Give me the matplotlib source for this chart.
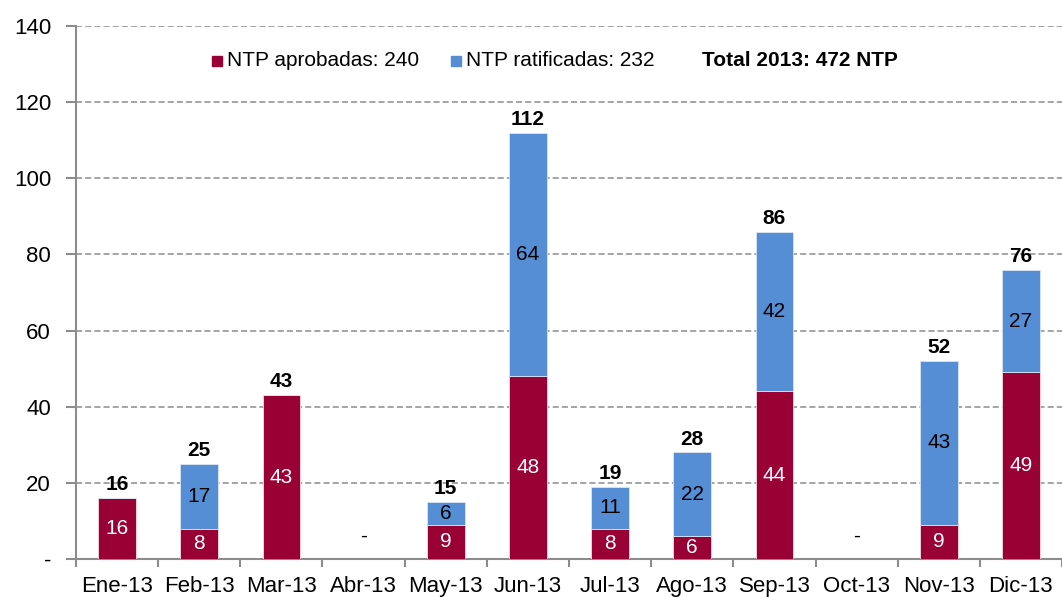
import matplotlib
matplotlib.use("Agg")
import matplotlib.pyplot as plt
from matplotlib.patches import Rectangle
import numpy as np

plt.rcParams['font.family'] = ['Liberation Sans', 'DejaVu Sans']

months = ["Ene-13", "Feb-13", "Mar-13", "Abr-13", "May-13", "Jun-13",
          "Jul-13", "Ago-13", "Sep-13", "Oct-13", "Nov-13", "Dic-13"]
aprobadas = [16, 8, 43, 0, 9, 48, 8, 6, 44, 0, 9, 49]
ratificadas = [0, 17, 0, 0, 6, 64, 11, 22, 42, 0, 43, 27]
yticks = [0, 20, 40, 60, 80, 100, 120, 140]
ytick_labels = ["-", "20", "40", "60", "80", "100", "120", "140"]

RED = "#990033"
BLUE = "#558ED5"
GRID = "#8C8C8C"

fig = plt.figure(figsize=(10.62, 5.97), dpi=100)
ax = fig.add_axes([76/1062, 1 - 559/597, 1 - 76/1062, (559 - 26)/597])

x = np.arange(len(months))
w = 0.46
ax.bar(x, aprobadas, w, color=RED, edgecolor="#F2DCE3", linewidth=0.6, zorder=3)
ax.bar(x, ratificadas, w, bottom=aprobadas, color=BLUE, edgecolor="#DCE6F2", linewidth=0.6, zorder=3)

LBL = 15
for i in range(len(months)):
    a, r = aprobadas[i], ratificadas[i]
    tot = a + r
    if tot == 0:
        ax.text(x[i], 6, "-", ha="center", va="center", fontsize=LBL, color="black", zorder=4)
        continue
    if a > 0:
        ax.text(x[i], a / 2, str(a), ha="center", va="center", fontsize=LBL, color="white", zorder=4)
    if r > 0:
        ax.text(x[i], a + r / 2, str(r), ha="center", va="center", fontsize=LBL, color="black", zorder=4)
    ax.text(x[i], tot + 1.0, str(tot), ha="center", va="bottom", fontsize=LBL,
            fontweight="bold", color="black", zorder=4)

ax.set_ylim(0, 140)
ax.set_xlim(-0.5, (1062 - 76) / 83 - 0.5)
ax.set_yticks(yticks)
ax.set_yticklabels(ytick_labels, fontsize=16)
ax.yaxis.grid(True, color=GRID, linestyle=(0, (4, 2)), linewidth=1.1, zorder=0)
ax.set_axisbelow(True)

ax.set_xticks(x)
ax.set_xticklabels(months, fontsize=16)
ax.set_xticks(np.arange(-0.5, len(months), 1), minor=True)
ax.tick_params(axis="x", which="major", length=0, pad=12)
ax.tick_params(axis="x", which="minor", length=6, width=1.5, color=GRID, direction="out")
ax.tick_params(axis="y", length=7, width=1.5, color=GRID, direction="out", pad=11)

for s in ["top", "right"]:
    ax.spines[s].set_visible(False)
for s in ["left", "bottom"]:
    ax.spines[s].set_color(GRID)
    ax.spines[s].set_linewidth(1.5)

# Legend row
ly = 1 - 61/597
fig.patches.append(Rectangle((212/1062, 1 - 66/597), 10/1062, 10/597,
                             transform=fig.transFigure, color=RED, figure=fig))
fig.text(227/1062, ly, "NTP aprobadas: 240", fontsize=15, va="center", ha="left")
fig.patches.append(Rectangle((451/1062, 1 - 66/597), 10/1062, 10/597,
                             transform=fig.transFigure, color=BLUE, figure=fig))
fig.text(466/1062, ly, "NTP ratificadas: 232", fontsize=15, va="center", ha="left")
fig.text(702/1062, ly, "Total 2013: 472 NTP", fontsize=15, fontweight="bold", va="center", ha="left")

fig.savefig("out.png", dpi=100)
